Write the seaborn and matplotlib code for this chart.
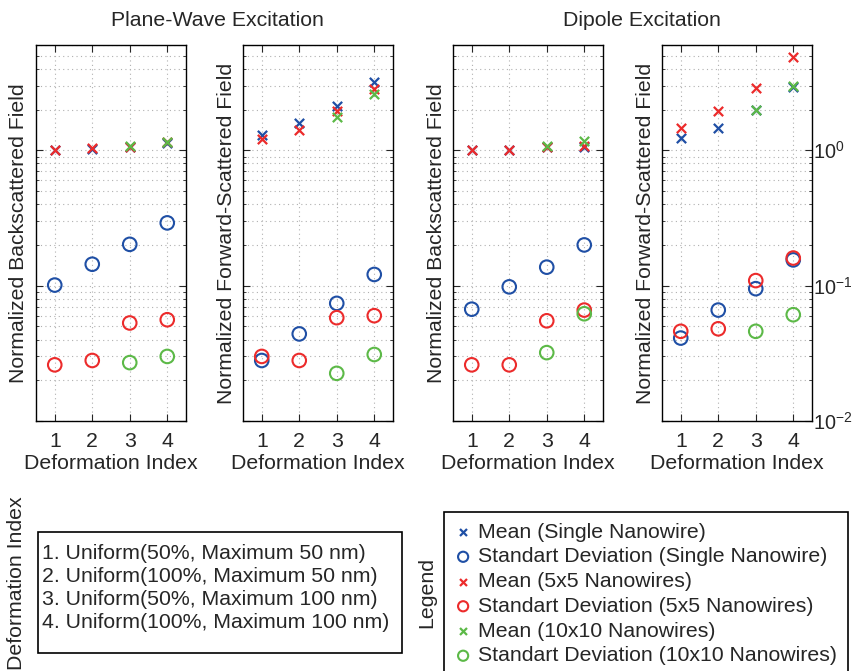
import numpy as np
import pandas as pd
import matplotlib
matplotlib.use("Agg")
import matplotlib.pyplot as plt
import seaborn as sns
from matplotlib.patches import Rectangle
from matplotlib.ticker import LogLocator, NullFormatter

# ---------------------------------------------------------------
# data
# ---------------------------------------------------------------
idx = [1, 2, 3, 4]
idx_10 = [3, 4]

pw_back_mean_single = [1.0, 1.03, 1.06, 1.14]
pw_back_std_single = [0.101, 0.144, 0.202, 0.291]
pw_back_mean_5x5 = [1.01, 1.04, 1.06, 1.15]
pw_back_std_5x5 = [0.026, 0.028, 0.053, 0.056]
pw_back_mean_10x10 = [1.07, 1.15]
pw_back_std_10x10 = [0.027, 0.030]

pw_fwd_mean_single = [1.29, 1.58, 2.13, 3.2]
pw_fwd_std_single = [0.028, 0.044, 0.074, 0.121]
pw_fwd_mean_5x5 = [1.21, 1.42, 1.95, 2.86]
pw_fwd_std_5x5 = [0.030, 0.028, 0.058, 0.060]
pw_fwd_mean_10x10 = [1.76, 2.6]
pw_fwd_std_10x10 = [0.0225, 0.031]

dp_back_mean_single = [1.0, 1.0, 1.05, 1.06]
dp_back_std_single = [0.067, 0.098, 0.137, 0.200]
dp_back_mean_5x5 = [1.0, 1.0, 1.06, 1.07]
dp_back_std_5x5 = [0.026, 0.026, 0.055, 0.066]
dp_back_mean_10x10 = [1.07, 1.17]
dp_back_std_10x10 = [0.032, 0.062]

dp_fwd_mean_single = [1.24, 1.46, 1.98, 2.94]
dp_fwd_std_single = [0.041, 0.066, 0.095, 0.155]
dp_fwd_mean_5x5 = [1.45, 1.95, 2.9, 4.9]
dp_fwd_std_5x5 = [0.046, 0.048, 0.109, 0.160]
dp_fwd_mean_10x10 = [1.98, 3.0]
dp_fwd_std_10x10 = [0.046, 0.061]

series_labels = ["Mean (Single Nanowire)", "Standart Deviation (Single Nanowire)",
                 "Mean (5x5 Nanowires)", "Standart Deviation (5x5 Nanowires)",
                 "Mean (10x10 Nanowires)", "Standart Deviation (10x10 Nanowires)"]
deform_labels = ["1. Uniform(50%, Maximum 50 nm)",
                 "2. Uniform(100%, Maximum 50 nm)",
                 "3. Uniform(50%, Maximum 100 nm)",
                 "4. Uniform(100%, Maximum 100 nm)"]

panels = [
    ("Normalized Backscattered Field",
     [pw_back_mean_single, pw_back_std_single, pw_back_mean_5x5, pw_back_std_5x5,
      pw_back_mean_10x10, pw_back_std_10x10]),
    ("Normalized Forward-Scattered Field",
     [pw_fwd_mean_single, pw_fwd_std_single, pw_fwd_mean_5x5, pw_fwd_std_5x5,
      pw_fwd_mean_10x10, pw_fwd_std_10x10]),
    ("Normalized Backscattered Field",
     [dp_back_mean_single, dp_back_std_single, dp_back_mean_5x5, dp_back_std_5x5,
      dp_back_mean_10x10, dp_back_std_10x10]),
    ("Normalized Forward-Scattered Field",
     [dp_fwd_mean_single, dp_fwd_std_single, dp_fwd_mean_5x5, dp_fwd_std_5x5,
      dp_fwd_mean_10x10, dp_fwd_std_10x10]),
]

# ---------------------------------------------------------------
# style
# ---------------------------------------------------------------
sns.set_style("white")
plt.rcParams['font.family'] = ['Liberation Sans', 'DejaVu Sans']
plt.rcParams['mathtext.fontset'] = 'custom'
plt.rcParams['mathtext.rm'] = 'Liberation Sans'
plt.rcParams['mathtext.it'] = 'Liberation Sans'
FS = 15.3

colors = ["#1f4fa5", "#1f4fa5", "#ec2b2b", "#ec2b2b", "#5cb947", "#5cb947"]
markers = ["x", "o", "x", "o", "x", "o"]

fig = plt.figure(figsize=(8.55, 6.71), dpi=100)
W, H = 855.0, 671.0
lefts = [36, 243, 453, 662]
top_px, bot_px, w_px = 45, 421, 150

axes = []
for k, (ylab, vals) in enumerate(panels):
    ax = fig.add_axes([lefts[k] / W, 1 - bot_px / H, w_px / W, (bot_px - top_px) / H])
    axes.append(ax)
    for j in range(6):
        xs = idx if len(vals[j]) == 4 else idx_10
        df = pd.DataFrame({"x": xs, "y": vals[j]})
        if markers[j] == "o":
            sns.scatterplot(data=df, x="x", y="y", ax=ax, marker="o", s=95,
                            color=colors[j], facecolor="none", edgecolor=colors[j],
                            linewidth=1.5, label=series_labels[j], zorder=3)
        else:
            sns.scatterplot(data=df, x="x", y="y", ax=ax, marker="x", s=45,
                            color=colors[j], edgecolor=colors[j],
                            linewidth=1.6, label=series_labels[j], zorder=3)
    if ax.get_legend() is not None:
        ax.get_legend().remove()
    ax.set_yscale("log")
    ax.set_ylim(0.01, 6)
    ax.set_xlim(0.5, 4.5)
    ax.set_xticks(idx)
    ax.set_xticklabels([str(i) for i in idx], fontsize=FS)
    ax.yaxis.set_major_locator(LogLocator(base=10, numticks=10))
    ax.yaxis.set_minor_locator(LogLocator(base=10, subs=np.arange(2, 10), numticks=20))
    ax.yaxis.set_minor_formatter(NullFormatter())
    ax.grid(True, which="both", axis="y", color="#b0b0b0", linestyle=(0, (1, 3)), linewidth=0.8)
    ax.grid(True, which="major", axis="x", color="#b0b0b0", linestyle=(0, (1, 3)), linewidth=0.8)
    ax.tick_params(which="both", direction="in", top=True, right=True, left=True, bottom=True)
    ax.tick_params(which="major", length=5, pad=8, labelsize=FS)
    ax.tick_params(which="minor", length=2.5)
    for sp in ax.spines.values():
        sp.set_color("black")
        sp.set_linewidth(1.0)
    ax.set_xlabel("Deformation Index", fontsize=FS, labelpad=2)
    ax.set_ylabel(ylab, fontsize=FS)
    ax.yaxis.set_label_coords(-0.05, 0.5)
    if k == 3:
        ax.tick_params(axis="y", which="major", labelleft=False, labelright=True,
                       pad=0.5, labelsize=14.3)
    else:
        ax.tick_params(axis="y", which="both", labelleft=False)

fig.text(217 / W, 1 - 21 / H, "Plane-Wave Excitation", ha="center", va="center", fontsize=FS)
fig.text(642 / W, 1 - 21 / H, "Dipole Excitation", ha="center", va="center", fontsize=FS)

# ---------------------------------------------------------------
# deformation index box
# ---------------------------------------------------------------
fig.patches.append(Rectangle((38 / W, 1 - 653 / H), (402 - 38) / W, (653 - 532) / H,
                             transform=fig.transFigure, fill=False, ec="black", lw=1.2))
fig.text(42 / W, 1 - 588 / H, "\n".join(deform_labels), ha="left", va="center",
         fontsize=FS, linespacing=1.26)
fig.text(16 / W, 1 - 583 / H, "Deformation Index", rotation=90, ha="center", va="center",
         fontsize=FS)

# ---------------------------------------------------------------
# legend box
# ---------------------------------------------------------------
handles, labels = axes[3].get_legend_handles_labels()
leg = fig.legend(handles, labels, loc="upper left",
                 bbox_to_anchor=(444 / W, 1 - 512 / H), bbox_transform=fig.transFigure,
                 fontsize=FS, frameon=True, fancybox=False, edgecolor="black",
                 framealpha=1, borderaxespad=0, borderpad=0.5, labelspacing=0.27,
                 handlelength=0.8, handletextpad=0.3, markerscale=0.75)
leg.get_frame().set_linewidth(1.2)
fig.text(427 / W, 1 - 593 / H, "Legend", rotation=90, ha="center", va="center", fontsize=FS)

plt.savefig("out.png", dpi=100)
